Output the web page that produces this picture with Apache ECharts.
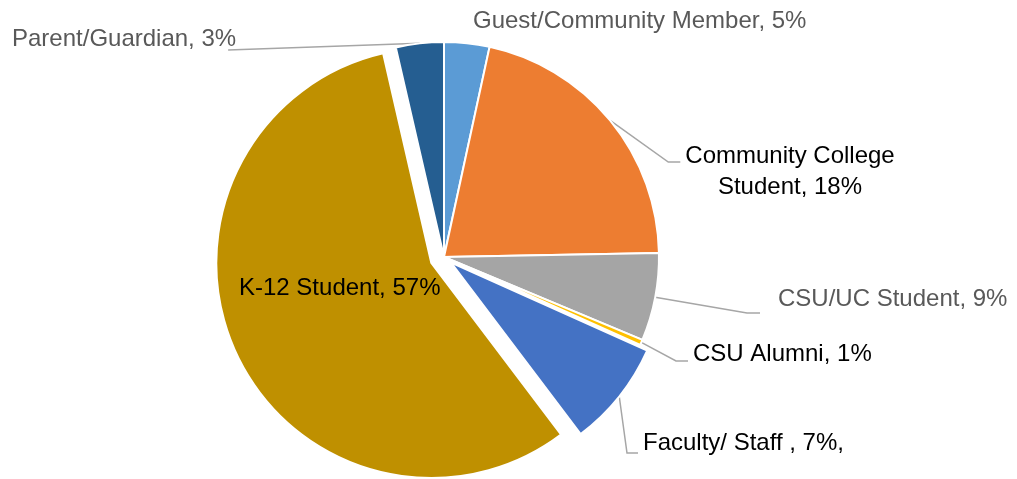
<!DOCTYPE html>
<html>
<head>
<meta charset="utf-8">
<script src="https://cdn.jsdelivr.net/npm/echarts@6/dist/echarts.min.js"></script>
<style>
html,body{margin:0;padding:0;background:#ffffff;}
#chart{width:1017px;height:479px;}
</style>
</head>
<body>
<div id="chart"></div>
<script>
// ---- data ----
const categories = ['Guest/Community Member', 'Community College Student', 'CSU/UC Student', 'CSU Alumni', 'Faculty/ Staff', 'K-12 Student', 'Parent/Guardian'];
const values = [3.4, 21.3, 6.6, 0.4, 8.0, 56.7, 3.6];
const labelTexts = ['Guest/Community Member, 5%', 'Community College\nStudent, 18%', 'CSU/UC Student, 9%', 'CSU Alumni, 1%', 'Faculty/ Staff , 7%,', 'K-12 Student, 57%', 'Parent/Guardian, 3%'];

// ---- styles / layout ----
const colors = ['#5B9BD5', '#ED7D31', '#A5A5A5', '#FFC000', '#4472C4', '#BF9000', '#255E91'];
const labelColors = ['#595959', '#000000', '#595959', '#000000', '#000000', '#000000', '#595959'];
const explodeOffsets = [0, 0, 0, 0, 9, 14, 0];   // slice pull-out distance (px)
const PIE_CENTER = [444, 257];
const PIE_RADIUS = 215;
// label placement: x, y (middle), align, leader line spec
const placement = [
  { x: 473, y: 21, align: 'left', line: null },
  { x: 790, y: 172, align: 'center', line: { side: 'right', gap: 5, dy: -10, bend: 12 } },
  { x: 778, y: 299, align: 'left', line: { side: 'right', gap: 18, dy: 14, bend: 13 } },
  { x: 693, y: 354, align: 'left', line: { side: 'right', gap: 5, dy: 7, bend: 12 } },
  { x: 643, y: 443, align: 'left', line: { side: 'right', gap: 5, dy: 10, bend: 11 } },
  { x: 239, y: 288, align: 'left', line: null },
  { x: 12, y: 39, align: 'left', line: { side: 'under', inset: 8, dy: 11 } }
];

const chart = echarts.init(document.getElementById('chart'), null, { renderer: 'canvas' });

const hiddenSlice = { color: 'rgba(0,0,0,0)', borderWidth: 0, opacity: 0 };
const clearSlice = { color: 'rgba(0,0,0,0)', borderWidth: 0 };

// slice series: one per distinct pull-out offset
const offsetGroups = Array.from(new Set(explodeOffsets));
const sliceSeries = offsetGroups.map(off => ({
  type: 'pie',
  center: PIE_CENTER,
  radius: PIE_RADIUS,
  startAngle: 90,
  clockwise: true,
  silent: true,
  selectedMode: off > 0 ? 'multiple' : false,
  selectedOffset: off,
  avoidLabelOverlap: false,
  emphasis: { disabled: true },
  label: { show: false },
  labelLine: { show: false },
  itemStyle: { borderColor: '#ffffff', borderWidth: 2 },
  data: categories.map((name, i) => ({
    name: name,
    value: values[i],
    selected: off > 0 && explodeOffsets[i] === off,
    itemStyle: explodeOffsets[i] === off ? { color: colors[i] } : hiddenSlice
  }))
}));

// label series: transparent slices carrying labels and leader lines
const labelSeries = {
  type: 'pie',
  center: PIE_CENTER,
  radius: PIE_RADIUS,
  startAngle: 90,
  clockwise: true,
  silent: true,
  avoidLabelOverlap: false,
  emphasis: { disabled: true },
  itemStyle: clearSlice,
  label: {
    show: true,
    fontFamily: 'Liberation Sans, Arial, sans-serif',
    fontSize: 24,
    lineHeight: 31
  },
  labelLine: {
    show: true,
    length: 20,
    length2: 10,
    smooth: false,
    lineStyle: { color: '#A6A6A6', width: 1.5 }
  },
  labelLayout: function (p) {
    const i = p.dataIndex;
    const P = placement[i];
    const w = p.labelRect.width;
    const res = { x: P.x, y: P.y, align: P.align, verticalAlign: 'middle' };
    if (P.line && p.labelLinePoints && p.labelLinePoints.length) {
      let start = p.labelLinePoints[0].slice();
      const off = explodeOffsets[i];
      if (off > 0) {
        const vx = start[0] - PIE_CENTER[0], vy = start[1] - PIE_CENTER[1];
        const len = Math.sqrt(vx * vx + vy * vy) || 1;
        start = [start[0] + vx / len * off, start[1] + vy / len * off];
      }
      const left = P.align === 'center' ? P.x - w / 2 : P.x;
      let end, bend;
      if (P.line.side === 'right') {
        end = [left - P.line.gap, P.y + P.line.dy];
        bend = [end[0] - P.line.bend, end[1]];
      } else {
        end = [left + w - P.line.inset, P.y + P.line.dy];
        bend = end.slice();
      }
      res.labelLinePoints = [start, bend, end];
    }
    return res;
  },
  data: categories.map((name, i) => ({
    name: name,
    value: values[i],
    label: {
      position: name === 'K-12 Student' ? 'inside' : 'outside',
      color: labelColors[i],
      formatter: labelTexts[i]
    },
    labelLine: { show: placement[i].line !== null }
  }))
};

chart.setOption({
  animation: false,
  backgroundColor: '#ffffff',
  series: sliceSeries.concat([labelSeries])
});
</script>
</body>
</html>
